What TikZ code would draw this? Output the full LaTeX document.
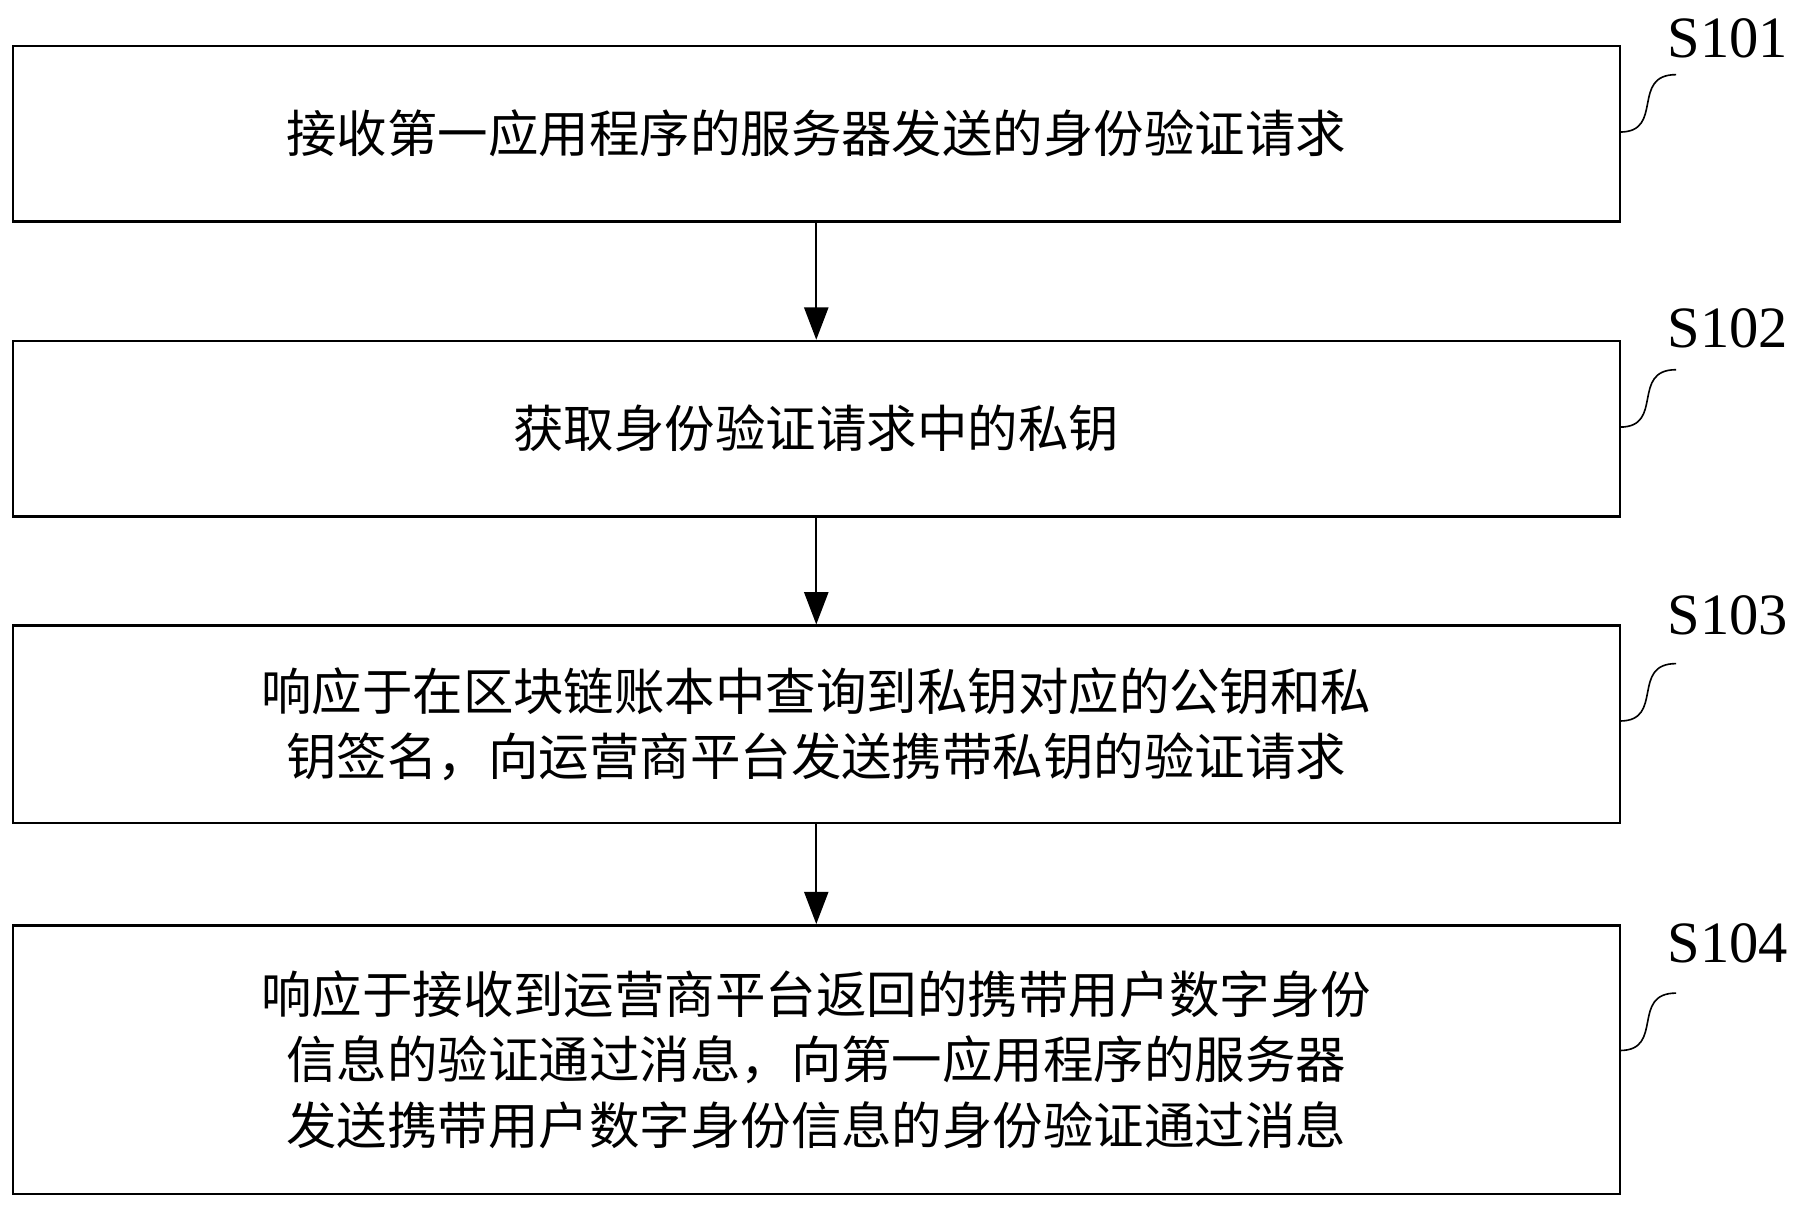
\documentclass[tikz,border=0pt]{standalone}
\usepackage{fontspec}
\setmainfont{Liberation Serif}
\newfontfamily\cjk{Noto Sans CJK SC}
\XeTeXlinebreaklocale "zh"
\XeTeXlinebreakskip=0pt
\usetikzlibrary{arrows.meta}

\tikzset{
  stepbox/.style={draw, line width=0.6pt, minimum width=13.99cm, text width=13.8cm,
    align=center, inner sep=0pt, font=\cjk\fontsize{12.5}{16.2}\selectfont},
  steplabel/.style={font=\fontsize{14.5}{16}\selectfont},
}

\begin{document}
\begin{tikzpicture}[x=0.01cm, y=-0.01cm]
    \useasboundingbox (0,0) rectangle (1567,1050);
    % Boxes
    \node[stepbox, minimum height=1.53cm] (s1) at (711,116.5) {接收第一应用程序的服务器发送的身份验证请求};
    \node[stepbox, minimum height=1.53cm] (s2) at (711,373.5) {获取身份验证请求中的私钥};
    \node[stepbox, minimum height=1.72cm] (s3) at (711,631) {响应于在区块链账本中查询到私钥对应的公钥和私钥签名，向运营商平台发送携带私钥的验证请求};
    \node[stepbox, minimum height=2.34cm] (s4) at (711,923) {响应于接收到运营商平台返回的携带用户数字身份信息的验证通过消息，向第一应用程序的服务器发送携带用户数字身份信息的身份验证通过消息};
    % Arrows
    \draw[-{Triangle[length=8pt,width=6pt]}] (s1) -- (s2);
    \draw[-{Triangle[length=8pt,width=6pt]}] (s2) -- (s3);
    \draw[-{Triangle[length=8pt,width=6pt]}] (s3) -- (s4);
    % Step labels
    \node[steplabel] (l1) at (1505,33) {S101};
    \node[steplabel] (l2) at (1505,286) {S102};
    \node[steplabel] (l3) at (1505,536) {S103};
    \node[steplabel] (l4) at (1505,822) {S104};
    \foreach \y in {115,372,628,915}
      \draw (1411,\y) .. controls (1450,\y) and (1420,\y-50) .. (1460,\y-50);
\end{tikzpicture}
\end{document}
